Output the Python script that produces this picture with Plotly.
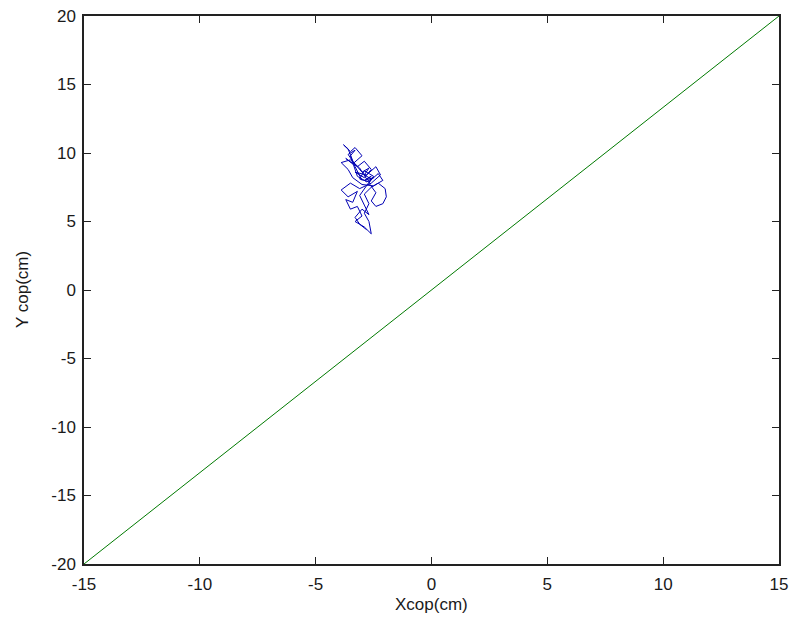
import plotly.graph_objects as go

# Diagonal reference line
line_x = [-15, 15]
line_y = [-20, 20]

# Centre-of-pressure trajectory (cm)
cop_x = [-3.0, -3.3, -3.6, -3.8, -3.5, -3.3, -3.0, -3.4, -3.7, -3.2, -2.9, -2.6, -2.9, -3.3,
         -2.8, -2.4, -2.2, -2.6, -3.1, -3.5, -3.9, -3.6, -3.2, -3.4, -3.7, -3.5, -3.2, -3.0,
         -3.3, -2.9, -2.6, -2.7, -2.9, -2.7, -2.9, -2.6, -2.3, -2.0, -1.95, -2.1, -2.4, -2.6,
         -2.4, -2.7, -2.5, -2.9, -3.1, -2.7, -2.3, -2.1, -2.5, -3.0, -3.4, -3.6, -3.9, -3.5,
         -3.1, -2.8, -2.6, -2.9, -2.5, -2.8, -3.2, -3.5, -3.3, -3.6, -3.4, -3.0, -2.7, -2.9,
         -2.6, -2.8, -3.1, -2.9, -2.7, -3.0, -3.3, -3.1, -2.8]
cop_y = [8.0, 9.0, 10.3, 10.6, 10.1, 10.4, 9.8, 9.2, 9.6, 9.0, 9.4, 8.8, 8.2, 8.6,
         8.4, 9.0, 8.4, 7.8, 7.4, 7.8, 7.3, 6.8, 7.2, 6.4, 6.6, 5.9, 6.1, 5.4,
         5.0, 4.6, 4.1, 5.0, 5.6, 6.3, 7.0, 7.5, 7.8, 7.4, 6.8, 6.3, 6.1, 6.5,
         7.1, 7.8, 8.3, 8.7, 8.1, 7.9, 8.5, 8.0, 7.6, 7.7, 8.2, 8.8, 9.3, 9.5,
         8.9, 8.1, 8.3, 8.0, 8.2, 7.9, 8.3, 9.8, 10.2, 9.9, 9.4, 8.6, 8.9, 8.4,
         8.1, 7.6, 6.9, 6.2, 5.5, 5.9, 5.3, 4.8, 4.4]

x_ticks = [-15, -10, -5, 0, 5, 10, 15]
y_ticks = [-20, -15, -10, -5, 0, 5, 10, 15, 20]

FONT = "Liberation Sans, Arial"
TXT = "#1a1a1a"

fig = go.Figure()
fig.add_trace(go.Scatter(x=cop_x, y=cop_y, mode="lines",
                         line=dict(color="#0000b4", width=1), showlegend=False))
fig.add_trace(go.Scatter(x=line_x, y=line_y, mode="lines",
                         line=dict(color="#007a00", width=1), showlegend=False))

axis_common = dict(showgrid=False, zeroline=False, showline=True, linecolor="#222",
                   linewidth=1.5, mirror="ticks", ticks="inside", ticklen=7,
                   automargin=False,
                   tickcolor="#222", tickfont=dict(family=FONT, size=17, color=TXT))

fig.update_layout(
    width=793, height=627,
    margin=dict(l=84, r=14, t=16, b=63),
    paper_bgcolor="white", plot_bgcolor="white",
    xaxis=dict(range=[-15, 15], tickvals=x_ticks, ticktext=[str(v) for v in x_ticks],
               ticklabelstandoff=4, **axis_common),
    yaxis=dict(range=[-20, 20], tickvals=y_ticks, ticktext=[str(v) for v in y_ticks],
               ticklabelstandoff=3, **axis_common),
    annotations=[
        dict(text="Xcop(cm)", xref="paper", yref="paper", x=0.5, y=-0.0748,
             xanchor="center", yanchor="middle", showarrow=False,
             font=dict(family=FONT, size=17, color=TXT)),
        dict(text="Y cop(cm)", xref="paper", yref="paper", x=-0.0892, y=0.5,
             xanchor="center", yanchor="middle", showarrow=False, textangle=-90,
             font=dict(family=FONT, size=17, color=TXT)),
    ],
)

fig.write_html("out.html")
